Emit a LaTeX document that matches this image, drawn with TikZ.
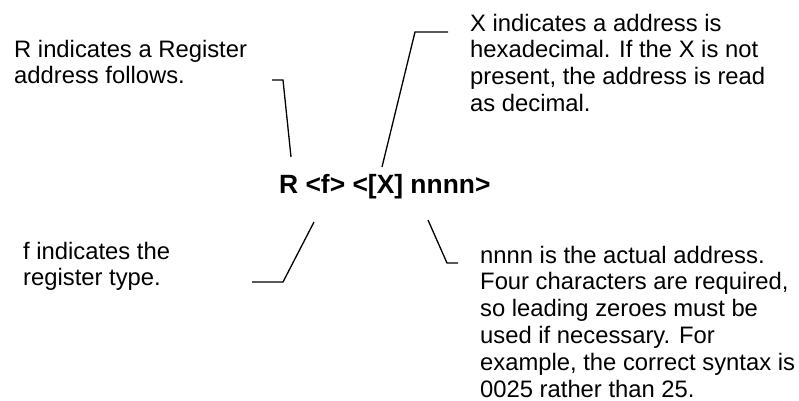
\documentclass[tikz,border=0pt]{standalone}
\usepackage{fontspec}
\setmainfont{Liberation Sans}
\newcommand\notelines[1]{\begin{tabular}[t]{@{}l@{}}#1\end{tabular}}
\begin{document}
\begin{tikzpicture}[x=1pt,y=-1pt,
  note/.style={anchor=base west, inner sep=0pt, font=\fontsize{23.8}{26.8}\selectfont},
  cmd/.style={anchor=base west, inner sep=0pt, font=\fontsize{26.4}{30}\selectfont\bfseries},
  leader/.style={line width=1.3pt, line join=miter}]
\useasboundingbox (0,0) rectangle (799,400);
\node[note] (rnote) at (14,57) {\notelines{R indicates a Register\\address follows.}};
\node[note] (xnote) at (470,31) {\notelines{X indicates a address is\\hexadecimal. If the X is not\\present, the address is read\\as decimal.}};
\node[note] (fnote) at (23,259) {\notelines{f indicates the\\register type.}};
\node[note] (nnote) at (480,263) {\notelines{nnnn is the actual address.\\Four characters are required,\\so leading zeroes must be\\used if necessary. For\\example, the correct syntax is\\0025 rather than 25.}};
\node[cmd] (syntax) at (279,193) {R <f> <[X] nnnn>};
\coordinate (r1) at (272,80);
\coordinate (r2) at (283,80);
\coordinate (r3) at (291,157);
\coordinate (x1) at (448,32);
\coordinate (x2) at (415,32);
\coordinate (x3) at (382,167);
\coordinate (f1) at (252,282);
\coordinate (f2) at (283,282);
\coordinate (f3) at (314,222);
\coordinate (n1) at (428,220);
\coordinate (n2) at (447,263);
\coordinate (n3) at (458,263);
\draw[leader] (r1) -- (r2) -- (r3);
\draw[leader] (x1) -- (x2) -- (x3);
\draw[leader] (f1) -- (f2) -- (f3);
\draw[leader] (n1) -- (n2) -- (n3);
\end{tikzpicture}
\end{document}
